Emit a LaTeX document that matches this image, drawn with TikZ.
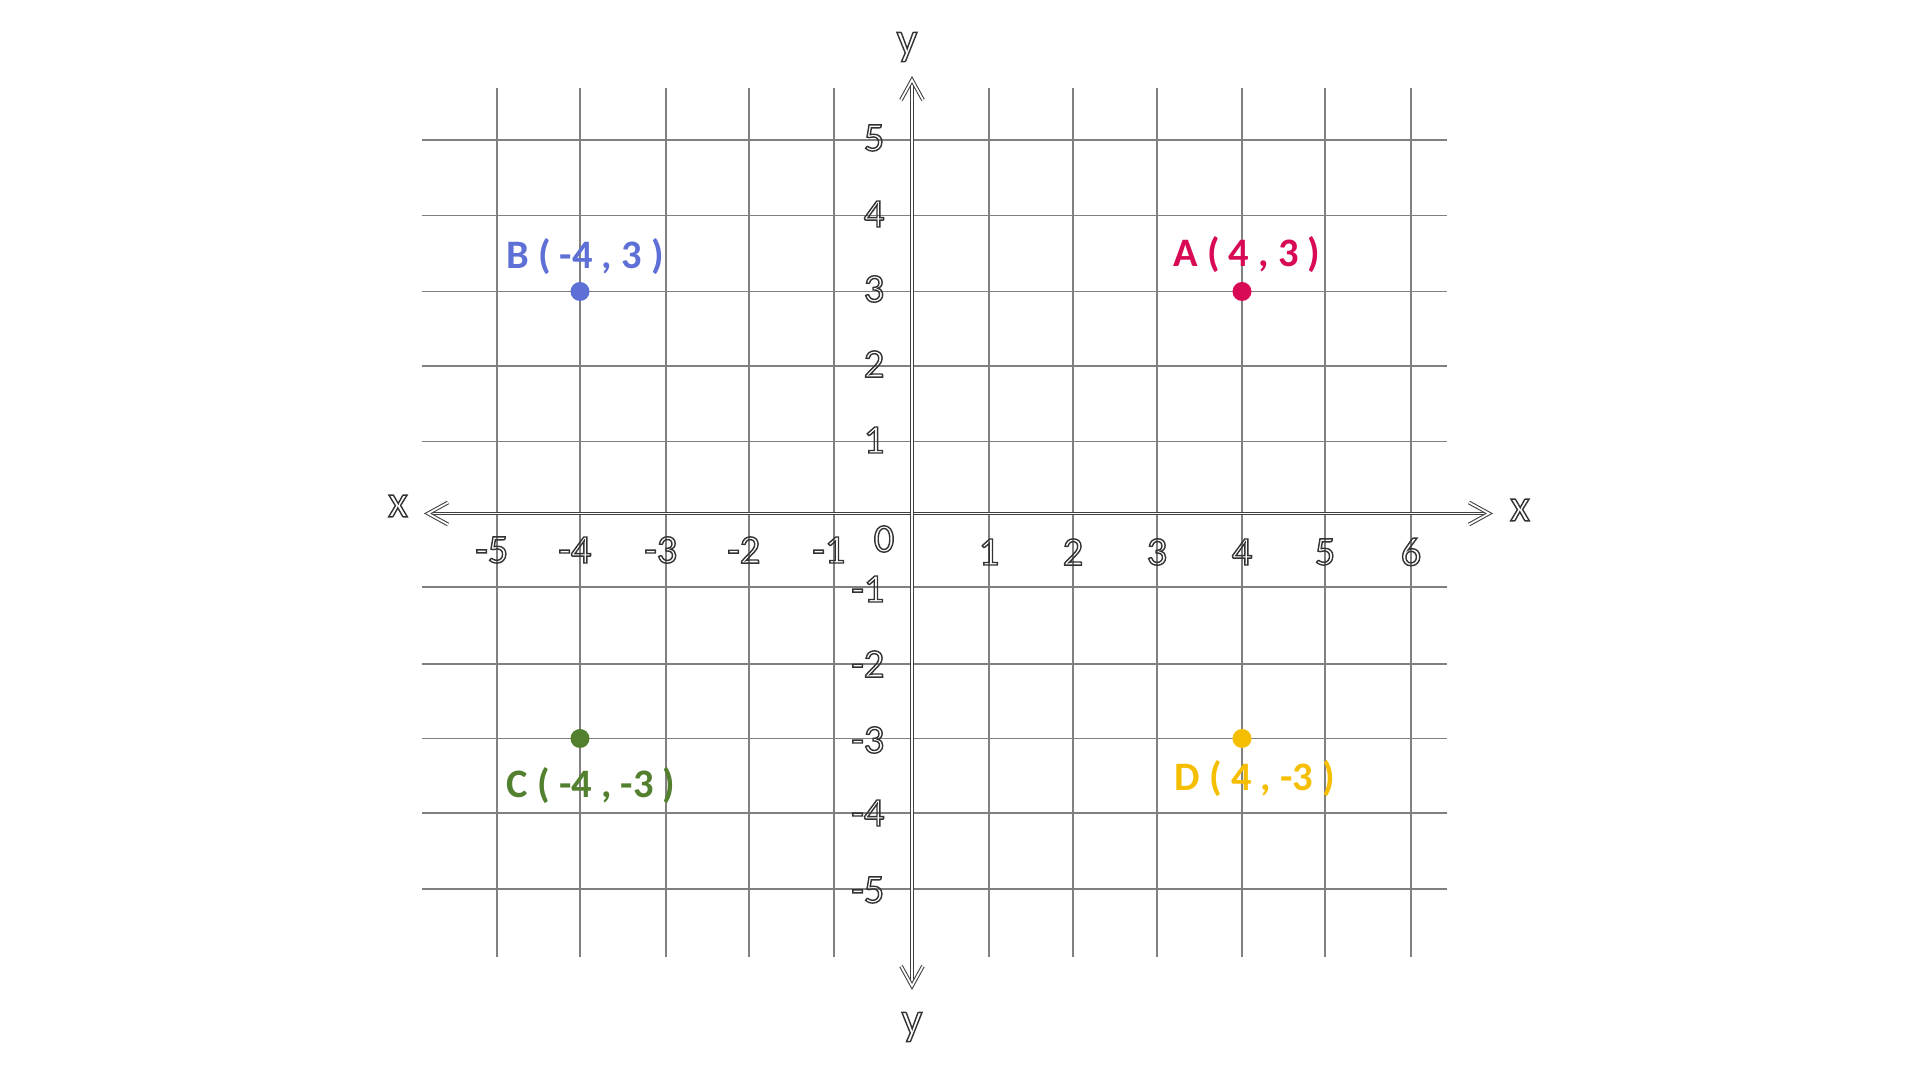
\documentclass[tikz,border=0pt]{standalone}
\usepackage{fontspec}
\setmainfont{Carlito}
\definecolor{acol}{RGB}{216,10,86}
\definecolor{bcol}{RGB}{94,112,214}
\definecolor{ccol}{RGB}{82,128,47}
\definecolor{dcol}{RGB}{246,190,0}
\newcommand{\outl}[1]{\special{pdf:literal direct 1 Tr 0.4 w}#1\special{pdf:literal direct 0 Tr}}
\begin{document}
\begin{tikzpicture}[x=0.01cm,y=-0.01cm,
  gridline/.style={black!50,line width=0.55pt},
  axis/.style={draw=black!75,double=white,line width=0.3pt,double distance=0.5pt,line join=miter},
  ticklab/.style={inner sep=0pt,font=\fontsize{11.5}{13}\selectfont,text=black!80},
  axlab/.style={inner sep=0pt,font=\fontsize{13}{15}\selectfont,text=black!80},
  dot/.style={circle,inner sep=0pt,minimum size=0.19cm},
  ptlab/.style={inner sep=0pt,font=\fontsize{11.5}{13}\selectfont\bfseries}]
\useasboundingbox (0,0) rectangle (1920,1080);
% grid lines: x value / pixel position
\foreach \v/\p in {-5/497,-4/580,-3/666,-2/749,-1/834,1/989,2/1073,3/1157,4/1242,5/1325,6/1411}
  \draw[gridline] (\p,88) -- (\p,957);
\foreach \v/\p in {5/140,4/215.5,3/291.5,2/366,1/441.5,-1/587,-2/664,-3/738.5,-4/813,-5/889}
  \draw[gridline] (422,\p) -- (1447,\p);
% axes
\coordinate (xl) at (428,513.5);
\coordinate (xr) at (1489,513.5);
\coordinate (yt) at (912,80);
\coordinate (yb) at (912,986);
\draw[axis] (xl) -- (xr);
\draw[axis] (yb) -- (yt);
\draw[axis] ([shift={(-0.2cm,0.11cm)}]xr) -- (xr) -- ([shift={(-0.2cm,-0.11cm)}]xr);
\draw[axis] ([shift={(0.2cm,0.11cm)}]xl) -- (xl) -- ([shift={(0.2cm,-0.11cm)}]xl);
\draw[axis] ([shift={(-0.11cm,-0.2cm)}]yt) -- (yt) -- ([shift={(0.11cm,-0.2cm)}]yt);
\draw[axis] ([shift={(-0.11cm,0.2cm)}]yb) -- (yb) -- ([shift={(0.11cm,0.2cm)}]yb);
\node[axlab] (xlab1) at (398,506) {\outl{x}};
\node[axlab] (xlab2) at (1520,510) {\outl{x}};
\node[axlab] (ylab1) at (907,47) {\outl{y}};
\node[axlab] (ylab2) at (912,1027) {\outl{y}};
% tick labels
\foreach \v/\p in {-5/497,-4/580,-3/666,-2/749,-1/834}
  \node[ticklab,anchor=east] (tx\v) at (\p+12,550) {\outl{\v}};
\foreach \v/\p in {1/989,2/1073,3/1157,4/1242,5/1325,6/1411}
  \node[ticklab] (tx\v) at (\p,552) {\outl{\v}};
\node[ticklab] (t0) at (884,539) {\outl{0}};
\foreach \v/\p in {5/138,4/214,3/289,2/364,1/440,-1/589,-2/664,-3/740,-4/813,-5/890}
  \node[ticklab,anchor=east] (ty\v) at (885,\p) {\outl{\v}};
% points
\node[dot,fill=acol] (A) at (1242,291.5) {};
\node[dot,fill=bcol] (B) at (580,291.5) {};
\node[dot,fill=ccol] (C) at (580,738.5) {};
\node[dot,fill=dcol] (D) at (1242,738.5) {};
\node[ptlab,text=acol] (Al) at (1247,255) {A ( 4 , 3 )};
\node[ptlab,text=bcol] (Bl) at (585,257) {B ( -4 , 3 )};
\node[ptlab,text=ccol] (Cl) at (591,786) {C ( -4 , -3 )};
\node[ptlab,text=dcol] (Dl) at (1255,779) {D ( 4 , -3 )};
\end{tikzpicture}
\end{document}
